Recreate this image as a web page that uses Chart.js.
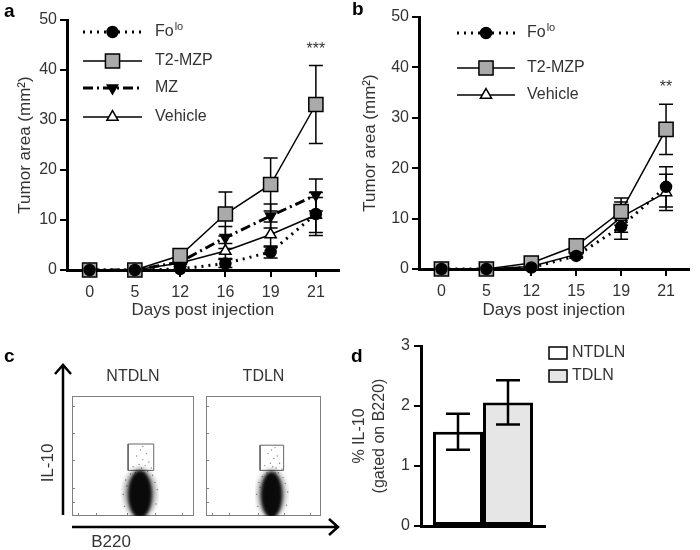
<!DOCTYPE html>
<html>
<head>
<meta charset="utf-8">
<script src="https://cdn.jsdelivr.net/npm/chart.js@4.4.1/dist/chart.umd.min.js"></script>
<style>
  body { margin: 0; background: #fff; }
  #fig { position: relative; width: 700px; height: 550px; overflow: hidden; font-family: 'Liberation Sans', Arial, sans-serif; }
  #fig canvas { position: absolute; }
  .panel { position: absolute; font-weight: bold; font-size: 19px; line-height: 19px; color: #000; }
</style>
</head>
<body>
<div id="fig">
  <canvas id="chartA" width="350" height="325" style="left:0;top:0"></canvas>
  <canvas id="chartB" width="350" height="325" style="left:350px;top:0"></canvas>
  <canvas id="chartC1" width="350" height="195" style="left:0;top:355px"></canvas>
  <canvas id="chartC2" width="155" height="195" style="left:195px;top:355px"></canvas>
  <canvas id="chartD" width="352" height="220" style="left:348px;top:330px"></canvas>
  <div class="panel" style="left:4px;top:1px">a</div>
  <div class="panel" style="left:352px;top:-1px">b</div>
  <div class="panel" style="left:4px;top:346px">c</div>
  <div class="panel" style="left:351px;top:346px">d</div>
</div>
<script>
// ---- データ (a) ----
const daysA = ['0', '5', '12', '16', '19', '21'];
const foloA = [0, 0, 0.2, 1.3, 3.6, 11.2];
const foloAErr = [0, 0, 0, 0.8, 1.2, 4.3];
const t2mzpA = [0, 0, 2.9, 11.2, 17.1, 33.1];
const t2mzpAErr = [0, 0, 0.5, 4.4, 5.3, 7.8];
const mzA = [0, 0, 1.6, 6.5, 10.8, 15.0];
const mzAErr = [0, 0, 0.3, 2.2, 2.4, 3.2];
const vehicleA = [0, 0, 1.4, 3.8, 7.1, 11.0];
const vehicleAErr = [0, 0, 0.3, 1.5, 2.5, 3.5];

// ---- データ (b) ----
const daysB = ['0', '5', '12', '15', '19', '21'];
const foloB = [0, 0, 0.3, 2.6, 8.4, 16.3];
const foloBErr = [0, 0, 0.2, 0.4, 2.5, 4.0];
const t2mzpB = [0, 0, 1.2, 4.6, 11.4, 27.7];
const t2mzpBErr = [0, 0, 0.3, 0.6, 2.7, 5.0];
const vehicleB = [0, 0, 0.5, 2.9, 10.3, 15.2];
const vehicleBErr = [0, 0, 0.2, 0.4, 3.0, 3.6];

// ---- データ (c) フローサイトメトリー (x: B220, y: IL-10, 0-100) ----
const gateN = [{x: 46, y: 38}, {x: 67, y: 38}, {x: 67, y: 60}, {x: 46, y: 60}, {x: 46, y: 38}];
const gateT = [{x: 47, y: 38}, {x: 67.5, y: 38}, {x: 67.5, y: 59}, {x: 47, y: 59}, {x: 47, y: 38}];
// 集団の中心
const cloudN = [{x: 55.7, y: 21.5}];
const cloudT = [{x: 57, y: 21}];
const sparseN = [
  {x: 57, y: 40}, {x: 55, y: 43}, {x: 60, y: 42}, {x: 58, y: 47}, {x: 53, y: 50}, {x: 61, y: 52},
  {x: 56, y: 55}, {x: 63, y: 45}, {x: 50, y: 41}, {x: 58, y: 58}, {x: 54, y: 38}, {x: 65, y: 40},
  {x: 59, y: 36}, {x: 52, y: 36}, {x: 62, y: 37}, {x: 48, y: 35}, {x: 66, y: 34}, {x: 44, y: 30},
  {x: 42, y: 18}, {x: 70, y: 22}, {x: 43, y: 8}, {x: 69, y: 10}, {x: 45, y: 25}, {x: 68, y: 28}
];
const sparseT = [
  {x: 58, y: 41}, {x: 56, y: 44}, {x: 61, y: 40}, {x: 59, y: 48}, {x: 54, y: 52}, {x: 62, y: 50},
  {x: 57, y: 55}, {x: 64, y: 44}, {x: 51, y: 42}, {x: 60, y: 57}, {x: 55, y: 38}, {x: 66, y: 39},
  {x: 60, y: 36}, {x: 53, y: 36}, {x: 63, y: 36}, {x: 49, y: 33}, {x: 67, y: 32}, {x: 46, y: 28},
  {x: 44, y: 18}, {x: 71, y: 20}, {x: 45, y: 8}, {x: 70, y: 9}, {x: 47, y: 24}, {x: 69, y: 27}
];
const flowYTicks = [12, 23, 47, 69, 92];
const flowXTicks = [5, 20, 45, 68, 90];

// ---- データ (d) ----
const groupsD = ['NTDLN', 'TDLN'];
const il10D = [1.57, 2.06];
const il10DErr = [0.30, 0.37];

const FAMILY = "'Liberation Sans', Arial, sans-serif";
const TEXT = '#333';
Chart.defaults.font.family = FAMILY;
Chart.defaults.color = TEXT;
Chart.defaults.animation = false;

// マーカー描画 (凡例用)
function drawMarker(ctx, style, x, y, r, fill, rotation) {
  ctx.save();
  ctx.setLineDash([]);
  ctx.fillStyle = fill;
  ctx.strokeStyle = '#000';
  ctx.lineWidth = 1.5;
  ctx.beginPath();
  if (style === 'circle') {
    ctx.arc(x, y, r, 0, Math.PI * 2);
  } else if (style === 'rect') {
    const s = r * Math.SQRT1_2;
    ctx.rect(x - s, y - s, 2 * s, 2 * s);
  } else {
    let rad = (rotation || 0) * Math.PI / 180;
    for (let k = 0; k < 3; k++) {
      const px = x + Math.sin(rad) * r, py = y - Math.cos(rad) * r;
      k === 0 ? ctx.moveTo(px, py) : ctx.lineTo(px, py);
      rad += Math.PI * 2 / 3;
    }
    ctx.closePath();
  }
  ctx.fill();
  ctx.stroke();
  ctx.restore();
}

// エラーバー
const errorBars = {
  id: 'errorBars',
  beforeDatasetsDraw(chart, args, opts) {
    if (!opts.after) drawErr(chart, opts);
  },
  afterDatasetsDraw(chart, args, opts) {
    if (opts.after) drawErr(chart, opts);
  }
};
function drawErr(chart, opts) {
  const ctx = chart.ctx;
  const yScale = chart.scales.y;
  ctx.save();
  ctx.strokeStyle = '#000';
  ctx.lineWidth = opts.width || 1.5;
  ctx.setLineDash([]);
  chart.data.datasets.forEach(function (ds, i) {
    if (!ds.errors) return;
    const meta = chart.getDatasetMeta(i);
    meta.data.forEach(function (el, j) {
      const e = ds.errors[j];
      if (!e) return;
      const top = yScale.getPixelForValue(ds.data[j] + e);
      const bot = yScale.getPixelForValue(Math.max(0, ds.data[j] - e));
      const c = opts.cap || 7;
      ctx.beginPath();
      ctx.moveTo(el.x, top); ctx.lineTo(el.x, bot);
      ctx.moveTo(el.x - c, top); ctx.lineTo(el.x + c, top);
      ctx.moveTo(el.x - c, bot); ctx.lineTo(el.x + c, bot);
      ctx.stroke();
    });
  });
  ctx.restore();
}

// 線+マーカーの凡例
const lineLegend = {
  id: 'lineLegend',
  afterDraw(chart, args, opts) {
    const ctx = chart.ctx;
    chart.data.datasets.forEach(function (ds, i) {
      const y = opts.ys[i];
      ctx.save();
      ctx.strokeStyle = '#000';
      ctx.lineWidth = ds.borderWidth;
      ctx.setLineDash(ds.borderDash || []);
      ctx.lineCap = ds.borderCapStyle || 'butt';
      ctx.beginPath();
      ctx.moveTo(opts.x0, y);
      ctx.lineTo(opts.x1, y);
      ctx.stroke();
      ctx.restore();
      drawMarker(ctx, ds.pointStyle, (opts.x0 + opts.x1) / 2, y, ds.pointRadius, ds.pointBackgroundColor, ds.pointRotation);
      ctx.save();
      ctx.fillStyle = TEXT;
      ctx.textBaseline = 'middle';
      ctx.textAlign = 'left';
      ctx.font = '16px ' + FAMILY;
      const main = ds.supFrom ? ds.label.slice(0, ds.supFrom) : ds.label;
      ctx.fillText(main, opts.tx, y);
      if (ds.supFrom) {
        const w = ctx.measureText(main).width;
        ctx.font = '11px ' + FAMILY;
        ctx.fillText(ds.label.slice(ds.supFrom), opts.tx + w + 1, y - 5);
      }
      ctx.restore();
    });
  }
};

// 有意差の星
const sigStars = {
  id: 'sigStars',
  afterDraw(chart, args, opts) {
    const ctx = chart.ctx;
    const x = chart.scales.x.getPixelForValue(opts.index);
    const y = chart.scales.y.getPixelForValue(opts.value);
    ctx.save();
    ctx.fillStyle = TEXT;
    ctx.font = '16px ' + FAMILY;
    ctx.textAlign = 'center';
    ctx.textBaseline = 'middle';
    ctx.fillText(opts.text, x, y);
    ctx.restore();
  }
};

function lineDatasets(list) {
  return list.map(function (s) {
    return Object.assign({
      borderColor: '#000',
      pointBorderColor: '#000',
      pointBorderWidth: 1.5,
      tension: 0,
      clip: false
    }, s);
  });
}

function lineOptions(yw, xh, pad, titlePad, legendOpts, starOpts) {
  return {
    responsive: false,
    events: [],
    layout: { padding: pad },
    scales: {
      x: {
        type: 'category',
        offset: true,
        border: { color: '#000', width: 3 },
        grid: { drawOnChartArea: false, tickLength: 7, offset: false, color: '#000', lineWidth: 2 },
        ticks: { font: { size: 16 }, color: TEXT, padding: 6, maxRotation: 0, autoSkip: false },
        title: { display: true, text: 'Days post injection', font: { size: 17 }, color: TEXT, padding: { top: 0, bottom: 4 } },
        afterFit(scale) { scale.height = xh; }
      },
      y: {
        min: 0,
        max: 50,
        border: { color: '#000', width: 3 },
        grid: { drawOnChartArea: false, tickLength: 7, color: '#000', lineWidth: 2 },
        ticks: { stepSize: 10, font: { size: 16 }, color: TEXT, padding: 3 },
        title: { display: true, text: 'Tumor area (mm²)', font: { size: 17 }, color: TEXT, padding: { top: titlePad, bottom: 0 } },
        afterFit(scale) { scale.width = yw; }
      }
    },
    plugins: {
      legend: { display: false },
      tooltip: { enabled: false },
      errorBars: { cap: 7, width: 1.5 },
      lineLegend: legendOpts,
      sigStars: starOpts
    }
  };
}

//描画 (a)
new Chart(document.getElementById('chartA'), {
  type: 'line',
  data: {
    labels: daysA,
    datasets: lineDatasets([
      { label: 'Folo', supFrom: 2, data: foloA, errors: foloAErr, borderWidth: 3, borderDash: [2, 5],
        pointStyle: 'circle', pointRadius: 5.5, pointBackgroundColor: '#000' },
      { label: 'T2-MZP', data: t2mzpA, errors: t2mzpAErr, borderWidth: 1.5,
        pointStyle: 'rect', pointRadius: 10, pointBackgroundColor: '#aaaaaa' },
      { label: 'MZ', data: mzA, errors: mzAErr, borderWidth: 3, borderDash: [10, 4, 2, 4],
        pointStyle: 'triangle', pointRotation: 180, pointRadius: 6, pointBackgroundColor: '#000' },
      { label: 'Vehicle', data: vehicleA, errors: vehicleAErr, borderWidth: 1.5,
        pointStyle: 'triangle', pointRadius: 6.5, pointBackgroundColor: '#fff' }
    ])
  },
  options: lineOptions(67, 55, { top: 20, right: 9, left: 0, bottom: 0 }, 15,
    { x0: 83, x1: 142, tx: 155, ys: [32, 61, 88, 117] },
    { index: 5, value: 44, text: '***' }),
  plugins: [errorBars, lineLegend, sigStars]
});

//描画 (b)
new Chart(document.getElementById('chartB'), {
  type: 'line',
  data: {
    labels: daysB,
    datasets: lineDatasets([
      { label: 'Folo', supFrom: 2, data: foloB, errors: foloBErr, borderWidth: 3, borderDash: [2, 5],
        pointStyle: 'circle', pointRadius: 5.5, pointBackgroundColor: '#000' },
      { label: 'T2-MZP', data: t2mzpB, errors: t2mzpBErr, borderWidth: 1.5,
        pointStyle: 'rect', pointRadius: 10, pointBackgroundColor: '#aaaaaa' },
      { label: 'Vehicle', data: vehicleB, errors: vehicleBErr, borderWidth: 1.5,
        pointStyle: 'triangle', pointRadius: 6.5, pointBackgroundColor: '#fff' }
    ])
  },
  options: lineOptions(69, 56, { top: 17, right: 7, left: 0, bottom: 0 }, 10,
    { x0: 107, x1: 165, tx: 177, ys: [33, 68, 95] },
    { index: 5, value: 36, text: '**' }),
  plugins: [errorBars, lineLegend, sigStars]
});

// 細胞集団の見た目 (ぼかした楕円)
function cloudSprite(w, h) {
  const c = document.createElement('canvas');
  c.width = w;
  c.height = h;
  const g = c.getContext('2d');
  g.filter = 'blur(2.5px)';
  g.fillStyle = 'rgba(0,0,0,0.4)';
  g.beginPath();
  g.ellipse(w / 2, h * 0.55, w / 2 - 3, h * 0.45 - 1, 0, 0, Math.PI * 2);
  g.fill();
  g.filter = 'blur(1.5px)';
  g.fillStyle = '#0a0a0a';
  g.beginPath();
  g.ellipse(w / 2, h * 0.57, w * 0.31, h * 0.41, 0, 0, Math.PI * 2);
  g.fill();
  return c;
}

// フローの枠と小目盛り
const flowFrame = {
  id: 'flowFrame',
  beforeDatasetsDraw(chart, args, opts) {
    const ctx = chart.ctx;
    const a = chart.chartArea;
    const sx = chart.scales.x, sy = chart.scales.y;
    ctx.save();
    ctx.strokeStyle = '#808080';
    ctx.lineWidth = 1;
    ctx.strokeRect(a.left + 0.5, a.top + 0.5, a.width - 1, a.height - 1);
    ctx.beginPath();
    flowYTicks.forEach(function (v) {
      const p = Math.round(sy.getPixelForValue(v)) + 0.5;
      ctx.moveTo(a.left, p); ctx.lineTo(a.left + 3, p);
    });
    flowXTicks.forEach(function (v) {
      const p = Math.round(sx.getPixelForValue(v)) + 0.5;
      ctx.moveTo(p, a.bottom); ctx.lineTo(p, a.bottom - 3);
    });
    ctx.stroke();
    ctx.fillStyle = TEXT;
    ctx.font = '16px ' + FAMILY;
    ctx.textAlign = 'center';
    ctx.textBaseline = 'middle';
    ctx.fillText(opts.title, (a.left + a.right) / 2, opts.titleY);
    ctx.restore();
  }
};

// 軸の矢印とラベル
const flowArrows = {
  id: 'flowArrows',
  afterDraw(chart) {
    const ctx = chart.ctx;
    ctx.save();
    ctx.strokeStyle = '#000';
    ctx.lineWidth = 2.5;
    ctx.beginPath();
    ctx.moveTo(63, 160); ctx.lineTo(63, 10);
    ctx.moveTo(55, 19); ctx.lineTo(63, 10); ctx.lineTo(71, 19);
    ctx.moveTo(72, 172); ctx.lineTo(338, 172);
    ctx.moveTo(329, 164); ctx.lineTo(338, 172); ctx.lineTo(329, 180);
    ctx.stroke();
    ctx.fillStyle = TEXT;
    ctx.font = '17px ' + FAMILY;
    ctx.textAlign = 'center';
    ctx.textBaseline = 'middle';
    ctx.fillText('B220', 111, 187);
    ctx.translate(48, 108);
    ctx.rotate(-Math.PI / 2);
    ctx.fillText('IL-10', 0, 0);
    ctx.restore();
  }
};

function flowDatasets(cloud, sprite, sparse, gate) {
  return [
    { data: cloud, pointStyle: sprite, pointRadius: 10, clip: 0 },
    { data: sparse, pointRadius: 0.7, pointBackgroundColor: '#888', pointBorderWidth: 0 },
    { data: gate, showLine: true, borderColor: '#666', borderWidth: 1, pointRadius: 0 }
  ];
}

function flowOptions(pad, title) {
  return {
    responsive: false,
    events: [],
    layout: { padding: pad },
    scales: {
      x: { type: 'linear', min: 0, max: 100, display: false },
      y: { type: 'linear', min: 0, max: 100, display: false }
    },
    plugins: {
      legend: { display: false },
      tooltip: { enabled: false },
      flowFrame: { title: title, titleY: 22 }
    }
  };
}

//描画 (c)
new Chart(document.getElementById('chartC1'), {
  type: 'scatter',
  data: { datasets: flowDatasets(cloudN, cloudSprite(38, 58), sparseN, gateN) },
  options: flowOptions({ left: 72, right: 156, top: 41, bottom: 34 }, 'NTDLN'),
  plugins: [flowFrame, flowArrows]
});
new Chart(document.getElementById('chartC2'), {
  type: 'scatter',
  data: { datasets: flowDatasets(cloudT, cloudSprite(34, 56), sparseT, gateT) },
  options: flowOptions({ left: 6, right: 29, top: 41, bottom: 34 }, 'TDLN'),
  plugins: [flowFrame]
});

// 四角の凡例 (d)
const boxLegend = {
  id: 'boxLegend',
  afterDraw(chart, args, opts) {
    const ctx = chart.ctx;
    chart.data.datasets.forEach(function (ds, i) {
      const y = opts.ys[i];
      ctx.save();
      ctx.fillStyle = ds.backgroundColor;
      ctx.strokeStyle = '#000';
      ctx.lineWidth = 1.5;
      ctx.fillRect(opts.x, y - 6, 18, 12);
      ctx.strokeRect(opts.x, y - 6, 18, 12);
      ctx.fillStyle = TEXT;
      ctx.font = '16px ' + FAMILY;
      ctx.textAlign = 'left';
      ctx.textBaseline = 'middle';
      ctx.fillText(ds.label, opts.x + 23, y);
      ctx.restore();
    });
  }
};

//描画 (d)
new Chart(document.getElementById('chartD'), {
  type: 'bar',
  data: {
    labels: [''],
    datasets: [
      { label: groupsD[0], data: [il10D[0]], errors: [il10DErr[0]], backgroundColor: '#ffffff', borderColor: '#000', borderWidth: 3, borderSkipped: false },
      { label: groupsD[1], data: [il10D[1]], errors: [il10DErr[1]], backgroundColor: '#e6e6e6', borderColor: '#000', borderWidth: 3, borderSkipped: false }
    ]
  },
  options: {
    responsive: false,
    events: [],
    layout: { padding: { top: 16, right: 155, left: 0, bottom: 0 } },
    datasets: { bar: { categoryPercentage: 100 / 124, barPercentage: 1 } },
    scales: {
      x: {
        border: { color: '#000', width: 3 },
        grid: { display: false },
        ticks: { display: false },
        afterFit(scale) { scale.height = 24; }
      },
      y: {
        min: 0,
        max: 3,
        border: { color: '#000', width: 3 },
        grid: { drawOnChartArea: false, tickLength: 7, color: '#000', lineWidth: 2 },
        ticks: { stepSize: 1, font: { size: 16 }, color: TEXT, padding: 4 },
        title: { display: true, text: ['% IL-10', '(gated on B220)'], font: { size: 16, lineHeight: 1.25 }, color: TEXT, padding: { top: 2, bottom: 0 } },
        afterFit(scale) { scale.width = 73; }
      }
    },
    plugins: {
      legend: { display: false },
      tooltip: { enabled: false },
      errorBars: { cap: 12, width: 2.5, after: true },
      boxLegend: { x: 201, ys: [23, 46] }
    }
  },
  plugins: [errorBars, boxLegend]
});
</script>
</body>
</html>
